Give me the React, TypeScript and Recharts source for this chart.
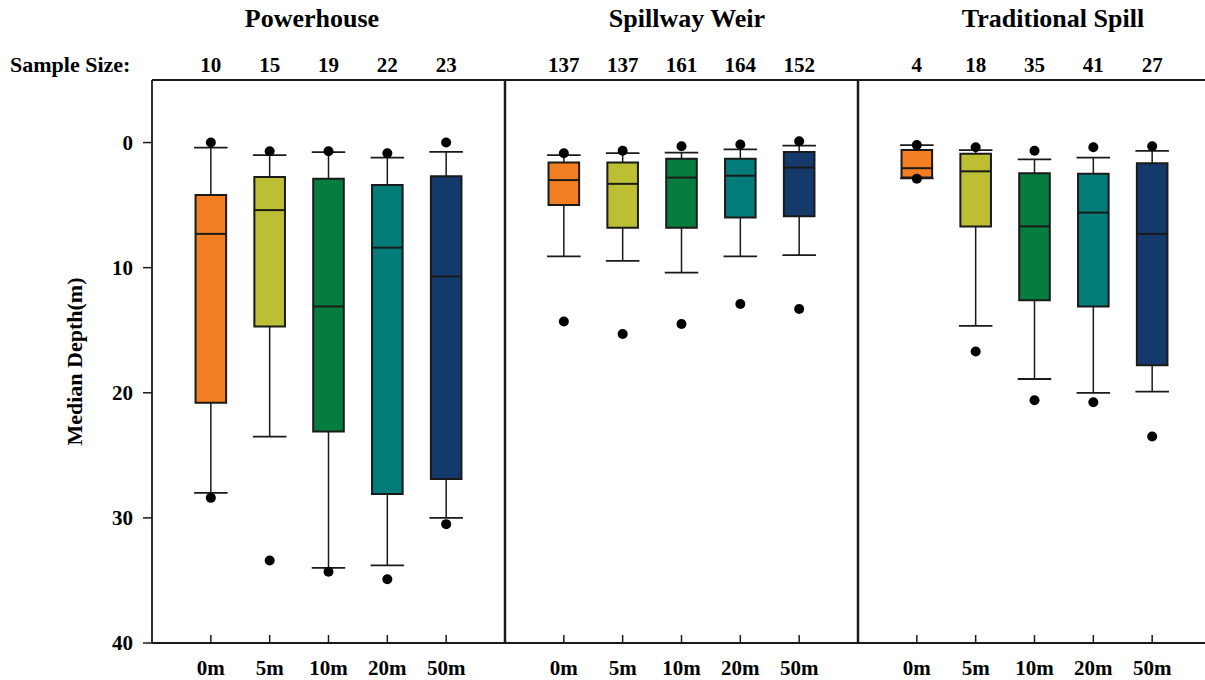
import React from "react";
import { ComposedChart, ReferenceArea, ReferenceLine, Scatter, XAxis, YAxis } from "recharts";

const panels = ["Powerhouse", "Spillway Weir", "Traditional Spill"];
const depthBins = ["0m", "5m", "10m", "20m", "50m"];
const binColors = ["#f47f22", "#bcbf33", "#077c3f", "#047c7a", "#143a6b"];

const sampleSizes = [
  [10, 15, 19, 22, 23],
  [137, 137, 161, 164, 152],
  [4, 18, 35, 41, 27],
];

// whisker ends (shallow side / deep side), quartiles and medians, depth in m
const whiskerTop = [
  [0.4, 1.0, 0.77, 1.2, 0.75],
  [1.0, 0.85, 0.8, 0.55, 0.25],
  [0.2, 0.6, 1.35, 1.2, 0.66],
];
const q1 = [
  [4.2, 2.75, 2.9, 3.4, 2.7],
  [1.6, 1.6, 1.3, 1.3, 0.75],
  [0.6, 0.9, 2.45, 2.5, 1.65],
];
const medians = [
  [7.3, 5.4, 13.1, 8.4, 10.7],
  [3.0, 3.3, 2.8, 2.65, 2.0],
  [2.05, 2.3, 6.7, 5.6, 7.3],
];
const q3 = [
  [20.8, 14.7, 23.1, 28.1, 26.9],
  [5.0, 6.8, 6.8, 6.0, 5.9],
  [2.8, 6.7, 12.6, 13.1, 17.8],
];
const whiskerBottom = [
  [28.0, 23.5, 34.0, 33.8, 30.0],
  [9.1, 9.45, 10.4, 9.1, 9.0],
  [2.87, 14.65, 18.9, 20.0, 19.9],
];
const outliers = [
  [[0.0, 28.4], [0.7, 33.4], [0.7, 34.3], [0.85, 34.9], [0.0, 30.5]],
  [[0.85, 14.3], [0.65, 15.3], [0.3, 14.5], [0.15, 12.9], [-0.1, 13.3]],
  [[0.2, 2.9], [0.37, 16.7], [0.66, 20.6], [0.37, 20.75], [0.3, 23.5]],
];

const yTicks = [0, 10, 20, 30, 40];
const Y_MIN = -5;

const SLOT = 6;
const BOX_HALF = 0.26;
const CAP_HALF = 0.285;
const FONT = '"Liberation Serif", "Times New Roman", serif';
const INK = "#1a1a1a";

const xOf = (p: number, k: number) => p * SLOT + k + 1;
const xTicks = panels.flatMap((_, p) => depthBins.map((_, k) => xOf(p, k)));

const outlierPoints = outliers.flatMap((row, p) =>
  row.flatMap((vals, k) => vals.map((y) => ({ x: xOf(p, k), y })))
);
// sample sizes sit on the top edge of the plot, above each box
const sampleSizePoints = sampleSizes.flatMap((row, p) =>
  row.map((n, k) => ({ x: xOf(p, k), y: Y_MIN, n }))
);

const titleCenters = [312, 687, 1053];

function BottomTick({ x, y, payload }: any) {
  const k = (Math.round(payload.value) % SLOT) - 1;
  return (
    <g>
      <line x1={x} x2={x} y1={y} y2={y - 8} stroke={INK} strokeWidth={1.5} />
      <text x={x} y={y + 32} textAnchor="middle" fontFamily={FONT} fontWeight={700} fontSize={21} fill="#000">
        {depthBins[k]}
      </text>
    </g>
  );
}

function SampleSizeLabel(props: any) {
  return (
    <text x={props.cx} y={props.cy - 8} textAnchor="middle" fontFamily={FONT} fontWeight={700} fontSize={21} fill="#000">
      {props.payload.n}
    </text>
  );
}

function boxElements() {
  const out: React.ReactNode[] = [];
  panels.forEach((_, p) => {
    depthBins.forEach((_, k) => {
      const x = xOf(p, k);
      const key = `${p}-${k}`;
      out.push(
        <ReferenceLine key={`wt${key}`} segment={[{ x, y: whiskerTop[p][k] }, { x, y: q1[p][k] }]} stroke={INK} strokeWidth={1.5} />,
        <ReferenceLine key={`wb${key}`} segment={[{ x, y: q3[p][k] }, { x, y: whiskerBottom[p][k] }]} stroke={INK} strokeWidth={1.5} />,
        <ReferenceLine key={`ct${key}`} segment={[{ x: x - CAP_HALF, y: whiskerTop[p][k] }, { x: x + CAP_HALF, y: whiskerTop[p][k] }]} stroke={INK} strokeWidth={1.8} />,
        <ReferenceLine key={`cb${key}`} segment={[{ x: x - CAP_HALF, y: whiskerBottom[p][k] }, { x: x + CAP_HALF, y: whiskerBottom[p][k] }]} stroke={INK} strokeWidth={1.8} />,
        <ReferenceArea
          key={`bx${key}`}
          x1={x - BOX_HALF}
          x2={x + BOX_HALF}
          y1={q1[p][k]}
          y2={q3[p][k]}
          fill={binColors[k]}
          fillOpacity={1}
          stroke={INK}
          strokeWidth={2}
        />,
        <ReferenceLine key={`md${key}`} segment={[{ x: x - BOX_HALF, y: medians[p][k] }, { x: x + BOX_HALF, y: medians[p][k] }]} stroke={INK} strokeWidth={2} />
      );
    });
  });
  return out;
}

export default function App() {
  return (
    <div style={{ position: "relative", width: 1205, height: 680, overflow: "hidden", background: "#fff" }}>
      <style>{"body{margin:0}"}</style>
      <ComposedChart width={1211} height={680} margin={{ top: 80, right: 0, bottom: 0, left: 0 }}>
        <XAxis
          dataKey="x"
          type="number"
          domain={[0, 18]}
          ticks={xTicks}
          height={37}
          axisLine={{ stroke: INK, strokeWidth: 2 }}
          tickLine={false}
          tickSize={0}
          tickMargin={0}
          tick={<BottomTick />}
          interval={0}
        />
        <YAxis
          dataKey="y"
          type="number"
          domain={[Y_MIN, 40]}
          reversed
          ticks={yTicks}
          width={152}
          axisLine={{ stroke: INK, strokeWidth: 1.8 }}
          tickLine={{ stroke: INK, strokeWidth: 1.5 }}
          tickSize={9}
          tickMargin={10}
          tick={{ fill: "#000", fontSize: 21, fontWeight: 700, fontFamily: FONT }}
          interval={0}
          label={{
            value: "Median Depth(m)",
            angle: -90,
            position: "center",
            dx: -2,
            style: { fill: "#000", fontSize: 22, fontWeight: 700, fontFamily: FONT },
          }}
        />
        <ReferenceLine y={Y_MIN} stroke={INK} strokeWidth={2} />
        <ReferenceLine x={6} stroke={INK} strokeWidth={2.5} />
        <ReferenceLine x={12} stroke={INK} strokeWidth={2.5} />
        {boxElements()}
        <Scatter
          data={outlierPoints}
          isAnimationActive={false}
          shape={(props: any) => <circle cx={props.cx} cy={props.cy} r={5} fill="#000" />}
        />
        <Scatter data={sampleSizePoints} isAnimationActive={false} shape={<SampleSizeLabel />} />
      </ComposedChart>
      <svg width={1205} height={680} style={{ position: "absolute", left: 0, top: 0, pointerEvents: "none" }}>
        {panels.map((name, p) => (
          <text key={name} x={titleCenters[p]} y={27} textAnchor="middle" fontFamily={FONT} fontWeight={700} fontSize={26} fill="#000">
            {name}
          </text>
        ))}
        <text x={10} y={72} fontFamily={FONT} fontWeight={700} fontSize={22} fill="#000">
          Sample Size:
        </text>
      </svg>
    </div>
  );
}
